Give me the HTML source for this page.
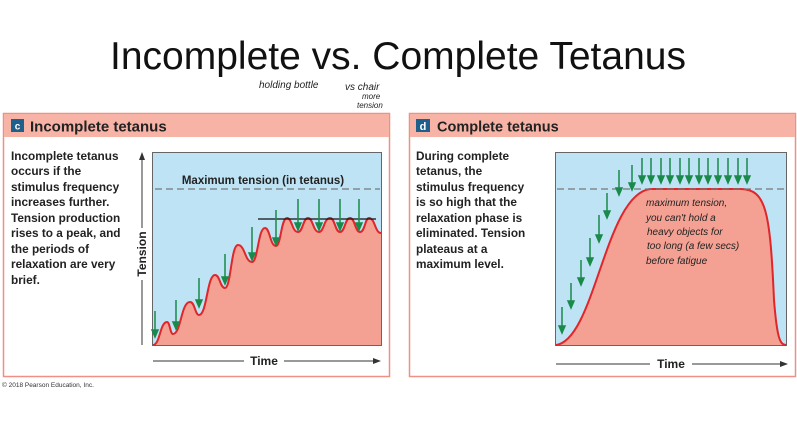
<!DOCTYPE html>
<html><head><meta charset="utf-8"><style>
body{margin:0;background:#fff;}
svg{display:block;font-family:"Liberation Sans",Arial,sans-serif;}
</style></head><body>
<svg width="797" height="430" viewBox="0 0 797 430">
<text x="398" y="69" font-size="39" text-anchor="middle" fill="#111" font-family="Liberation Sans, sans-serif">Incomplete vs. Complete Tetanus</text>
<g font-family="Comic Sans MS, Liberation Sans, sans-serif" fill="#222" font-size="10" font-style="italic">
<text x="259" y="88">holding bottle</text>
<text x="345" y="90">vs chair</text>
<text x="362" y="99" font-size="8">more</text>
<text x="357" y="108" font-size="8">tension</text>
</g>

<!-- Left panel -->
<rect x="3.5" y="113.5" width="386" height="263" fill="#fff" stroke="#ef8f86" stroke-width="1.5"/>
<rect x="4" y="114" width="385" height="23" fill="#f7b3a6"/>
<rect x="11" y="119" width="13" height="13" fill="#1f5f8b"/>
<text x="17.5" y="129.5" font-size="10" font-weight="bold" fill="#fff" text-anchor="middle">c</text>
<text x="30" y="131.5" font-size="15" font-weight="bold" fill="#222">Incomplete tetanus</text>
<g font-size="11.8" font-weight="bold" fill="#222">
<text x="11" y="160">Incomplete tetanus</text>
<text x="11" y="175">occurs if the</text>
<text x="11" y="191">stimulus frequency</text>
<text x="11" y="206">increases further.</text>
<text x="11" y="222">Tension production</text>
<text x="11" y="237">rises to a peak, and</text>
<text x="11" y="253">the periods of</text>
<text x="11" y="268">relaxation are very</text>
<text x="11" y="284">brief.</text>
</g>
<rect x="152.5" y="152.5" width="229" height="193" fill="#bde3f5" stroke="#666" stroke-width="1"/>
<path d="M153,345 C160,345 160,322 167,322 C170,322 170,334 173,334 C181,334 181,302 190,302 C195,302 195,315 199,315 C207,315 207,275 215,275 C220,275 220,288 225,288 C231,288 231,245 238,245 C245,245 245,262 252,262 C258,262 258,228 265,228 C270,228 270,246 276,246 C281,246 281,218 287,218 C292,218 292,232 298,232 C303,232 303,218 308,218 C313,218 313,232 319,232 C324,232 324,218 330,218 C335,218 335,232 340,232 C345,232 345,218 350,218 C355,218 355,232 360,232 C365,232 365,218 369,218 C375,218 375,233 381,233 L381,345 Z" fill="#f4a193"/>
<path d="M153,345 C160,345 160,322 167,322 C170,322 170,334 173,334 C181,334 181,302 190,302 C195,302 195,315 199,315 C207,315 207,275 215,275 C220,275 220,288 225,288 C231,288 231,245 238,245 C245,245 245,262 252,262 C258,262 258,228 265,228 C270,228 270,246 276,246 C281,246 281,218 287,218 C292,218 292,232 298,232 C303,232 303,218 308,218 C313,218 313,232 319,232 C324,232 324,218 330,218 C335,218 335,232 340,232 C345,232 345,218 350,218 C355,218 355,232 360,232 C365,232 365,218 369,218 C375,218 375,233 381,233" fill="none" stroke="#e0262a" stroke-width="2"/>
<line x1="155" y1="189" x2="380" y2="189" stroke="#777" stroke-width="1.2" stroke-dasharray="7,4"/>
<text x="263" y="184" font-size="11.5" font-weight="bold" fill="#222" text-anchor="middle">Maximum tension (in tetanus)</text>
<line x1="258" y1="219" x2="376" y2="219" stroke="#111" stroke-width="1.3"/>
<g stroke="#1a8a4a" stroke-width="1.5" fill="#1a8a4a">
<line x1="155" y1="311" x2="155" y2="332"/><path d="M152,330 L158,330 L155,337 Z"/>
<line x1="176" y1="300" x2="176" y2="324"/><path d="M173,322 L179,322 L176,329 Z"/>
<line x1="199" y1="278" x2="199" y2="302"/><path d="M196,300 L202,300 L199,307 Z"/>
<line x1="225" y1="254" x2="225" y2="279"/><path d="M222,277 L228,277 L225,284 Z"/>
<line x1="252" y1="227" x2="252" y2="255"/><path d="M249,253 L255,253 L252,260 Z"/>
<line x1="276" y1="210" x2="276" y2="240"/><path d="M273,238 L279,238 L276,245 Z"/>
<line x1="298" y1="199" x2="298" y2="225"/><path d="M295,223 L301,223 L298,230 Z"/>
<line x1="319" y1="199" x2="319" y2="225"/><path d="M316,223 L322,223 L319,230 Z"/>
<line x1="340" y1="199" x2="340" y2="225"/><path d="M337,223 L343,223 L340,230 Z"/>
<line x1="359" y1="199" x2="359" y2="225"/><path d="M356,223 L362,223 L359,230 Z"/>
</g>
<line x1="142" y1="345" x2="142" y2="158" stroke="#333" stroke-width="1"/>
<path d="M139,160 L142,152 L145,160 Z" fill="#333"/>
<rect x="134" y="228" width="16" height="52" fill="#fff"/>
<text transform="translate(146,254) rotate(-90)" font-size="12" font-weight="bold" fill="#222" text-anchor="middle">Tension</text>
<line x1="153" y1="361" x2="375" y2="361" stroke="#333" stroke-width="1"/>
<path d="M373,358 L381,361 L373,364 Z" fill="#333"/>
<rect x="244" y="352" width="40" height="16" fill="#fff"/>
<text x="264" y="365" font-size="12" font-weight="bold" fill="#222" text-anchor="middle">Time</text>
<text x="2" y="387" font-size="6.5" fill="#333">© 2018 Pearson Education, Inc.</text>

<!-- Right panel -->
<rect x="409.5" y="113.5" width="386" height="263" fill="#fff" stroke="#ef8f86" stroke-width="1.5"/>
<rect x="410" y="114" width="385" height="23" fill="#f7b3a6"/>
<rect x="416" y="119" width="14" height="13" fill="#1f5f8b"/>
<text x="423" y="130" font-size="11" font-weight="bold" fill="#fff" text-anchor="middle">d</text>
<text x="437" y="131.5" font-size="14.5" font-weight="bold" fill="#222">Complete tetanus</text>
<g font-size="11.8" font-weight="bold" fill="#222">
<text x="416" y="160">During complete</text>
<text x="416" y="175">tetanus, the</text>
<text x="416" y="191">stimulus frequency</text>
<text x="416" y="206">is so high that the</text>
<text x="416" y="222">relaxation phase is</text>
<text x="416" y="237">eliminated. Tension</text>
<text x="416" y="253">plateaus at a</text>
<text x="416" y="268">maximum level.</text>
</g>
<rect x="555.5" y="152.5" width="231" height="193" fill="#bde3f5" stroke="#666" stroke-width="1"/>
<path d="M556,345 C595,340 605,195 650,189 L740,189 C766,189 770,210 774,300 C777,338 780,345 786,345 Z" fill="#f4a193"/>
<path d="M556,345 C595,340 605,195 650,189 L740,189 C766,189 770,210 774,300 C777,338 780,345 786,345" fill="none" stroke="#e0262a" stroke-width="2"/>
<line x1="557" y1="189" x2="786" y2="189" stroke="#777" stroke-width="1.2" stroke-dasharray="7,4"/>
<g stroke="#1a8a4a" stroke-width="1.5" fill="#1a8a4a">
<line x1="562" y1="307" x2="562" y2="328"/><path d="M559,326 L565,326 L562,333 Z"/>
<line x1="571" y1="283" x2="571" y2="303"/><path d="M568,301 L574,301 L571,308 Z"/>
<line x1="581" y1="260" x2="581" y2="280"/><path d="M578,278 L584,278 L581,285 Z"/>
<line x1="590" y1="238" x2="590" y2="260"/><path d="M587,258 L593,258 L590,265 Z"/>
<line x1="599" y1="215" x2="599" y2="237"/><path d="M596,235 L602,235 L599,242 Z"/>
<line x1="607" y1="193" x2="607" y2="213"/><path d="M604,211 L610,211 L607,218 Z"/>
<line x1="619" y1="170" x2="619" y2="190"/><path d="M616,188 L622,188 L619,195 Z"/>
<line x1="632" y1="165" x2="632" y2="185"/><path d="M629,183 L635,183 L632,190 Z"/>
<line x1="642" y1="158" x2="642" y2="178"/><path d="M639,176 L645,176 L642,183 Z"/>
<line x1="651" y1="158" x2="651" y2="178"/><path d="M648,176 L654,176 L651,183 Z"/>
<line x1="661" y1="158" x2="661" y2="178"/><path d="M658,176 L664,176 L661,183 Z"/>
<line x1="670" y1="158" x2="670" y2="178"/><path d="M667,176 L673,176 L670,183 Z"/>
<line x1="680" y1="158" x2="680" y2="178"/><path d="M677,176 L683,176 L680,183 Z"/>
<line x1="689" y1="158" x2="689" y2="178"/><path d="M686,176 L692,176 L689,183 Z"/>
<line x1="699" y1="158" x2="699" y2="178"/><path d="M696,176 L702,176 L699,183 Z"/>
<line x1="708" y1="158" x2="708" y2="178"/><path d="M705,176 L711,176 L708,183 Z"/>
<line x1="718" y1="158" x2="718" y2="178"/><path d="M715,176 L721,176 L718,183 Z"/>
<line x1="728" y1="158" x2="728" y2="178"/><path d="M725,176 L731,176 L728,183 Z"/>
<line x1="738" y1="158" x2="738" y2="178"/><path d="M735,176 L741,176 L738,183 Z"/>
<line x1="747" y1="158" x2="747" y2="178"/><path d="M744,176 L750,176 L747,183 Z"/>
</g>
<g font-family="Comic Sans MS, Liberation Sans, sans-serif" fill="#222" font-size="10" font-style="italic">
<text x="646" y="206">maximum tension,</text>
<text x="646" y="221">you can't hold a</text>
<text x="647" y="235">heavy objects for</text>
<text x="647" y="249">too long (a few secs)</text>
<text x="646" y="264">before fatigue</text>
</g>
<line x1="556" y1="364" x2="782" y2="364" stroke="#333" stroke-width="1"/>
<path d="M780,361 L788,364 L780,367 Z" fill="#333"/>
<rect x="650" y="355" width="42" height="16" fill="#fff"/>
<text x="671" y="368" font-size="12" font-weight="bold" fill="#222" text-anchor="middle">Time</text>
</svg>
</body></html>
